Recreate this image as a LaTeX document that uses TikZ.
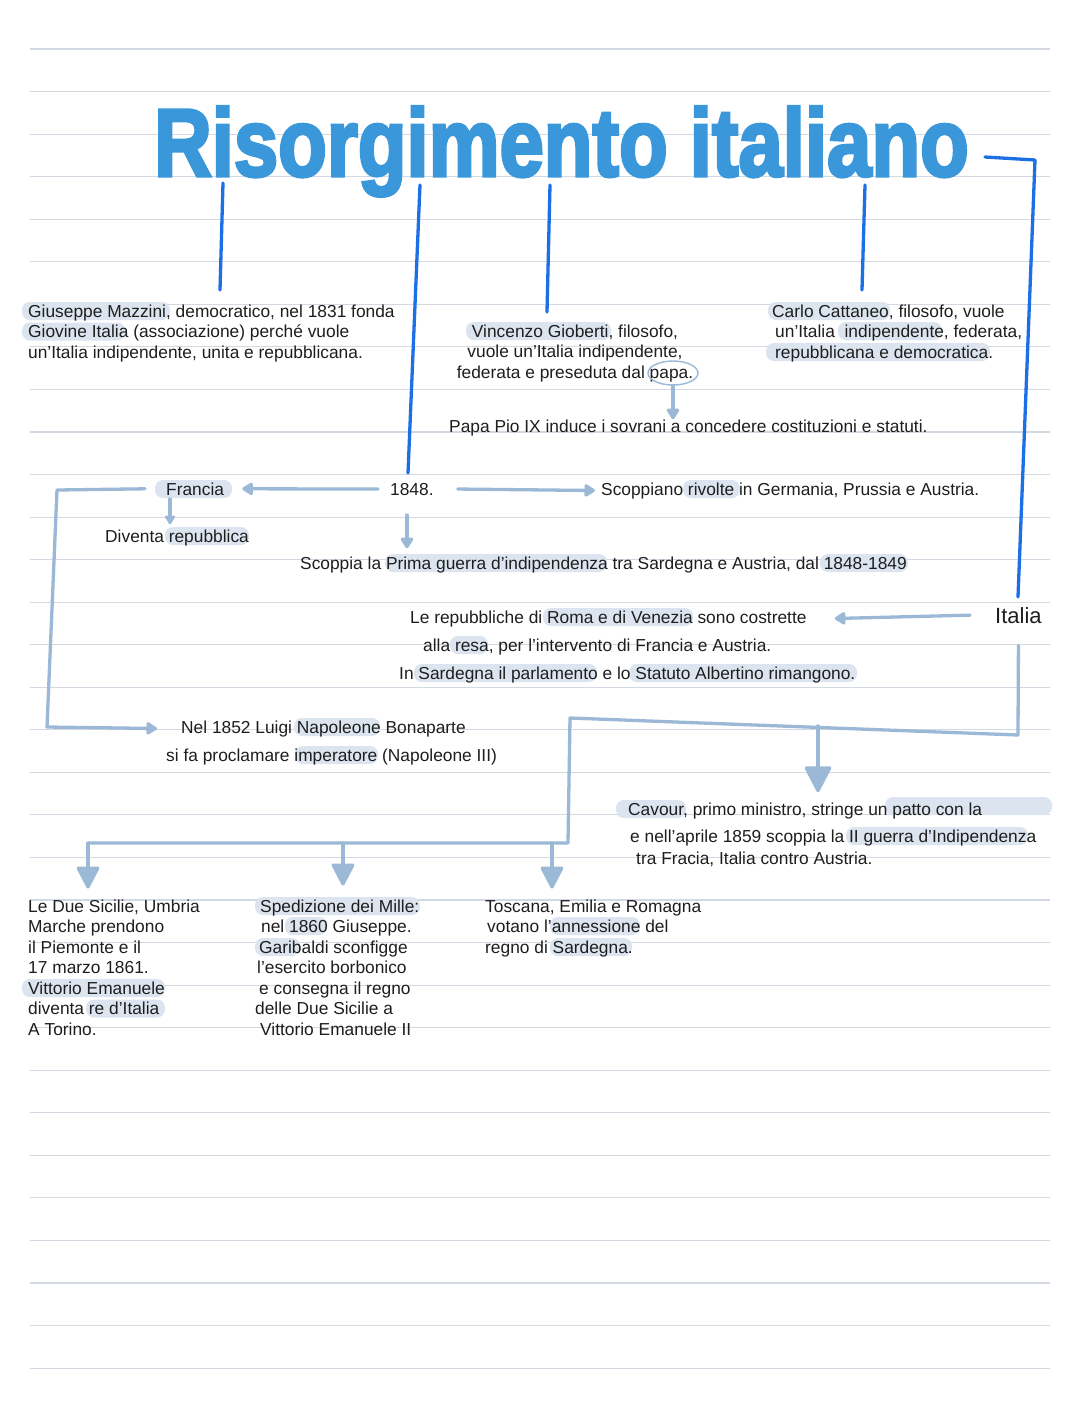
\documentclass[tikz,border=0pt]{standalone}
\usepackage{fontspec}
\setmainfont{Liberation Sans}
\newfontfamily\titlefont{Liberation Sans}[BoldFeatures={FakeBold=3.5}]
\usetikzlibrary{arrows.meta,shapes.geometric,calc}
\definecolor{rulec}{HTML}{D3D9E3}
\definecolor{titleblue}{HTML}{3A98DA}
\definecolor{linkblue}{HTML}{1C6FE4}
\definecolor{arrowblue}{HTML}{9BB9D7}
\definecolor{hlblue}{HTML}{DCE5EF}
\definecolor{ink}{HTML}{1E1E1E}
\newcommand{\titletext}{\scalebox{0.83}[1]{Risorgimento italiano}}
\begin{document}
\begin{tikzpicture}[x=1pt,y=-1pt,
 txt/.style={inner sep=0pt,anchor=base west,text=ink,font=\fontsize{17.35}{20.5}\selectfont},
 blk/.style={inner sep=0pt,anchor=north west,align=left,text=ink,font=\fontsize{17.35}{20.5}\selectfont},
 rulel/.style={draw=rulec,line width=1.1pt},
 link/.style={draw=linkblue,line width=3.3pt,line cap=round,line join=round},
 conn/.style={draw=arrowblue,line width=3.3pt,line cap=round,line join=round},
 arr/.style={conn,-{Triangle[width=14pt,length=12pt,round]}},
 smallarr/.style={conn,-{Triangle[width=11pt,length=10pt,round]}},
 bigarr/.style={conn,-{Triangle[width=28pt,length=28pt,round]}},
 midarr/.style={conn,-{Triangle[width=24pt,length=24pt,round]}},
 hl/.style={fill=hlblue,rounded corners=8pt}]
\useasboundingbox (0,0) rectangle (1080,1417);
\fill[white] (0,0) rectangle (1080,1417);
% ruled paper
\foreach \i in {0,...,31} \draw[rulel] (30,{49+42.55*\i}) -- (1050,{49+42.55*\i});
% highlights
\foreach \a/\b/\c in {22/170/317, 22/125/337.5, 466/611/337, 768/890/317, 838/942/337, 766/990/358,
  155/232/495, 683/740/495, 165/249/542, 385/607/569, 820/908/569, 543/693/623, 450/488/651,
  414/597/679, 629/857/679, 294/380/733, 295/378/761, 616/686/815, 885/1052/812, 846/1028/842,
  255/420/912, 285/327/932, 255/300/953, 22/165/994, 86/165/1014.5, 550/640/932, 550/632/953}
  \fill[hl] (\a,{\c-15}) rectangle (\b,{\c+3});
% title
\node[anchor=base west,inner sep=0pt,text=titleblue] (title) at (154,176)
  {\titlefont\bfseries\fontsize{96}{96}\selectfont\titletext};
% text blocks
\node[blk] (mazzini) at (28,304.5) {Giuseppe Mazzini, democratico, nel 1831 fonda\\Giovine Italia (associazione) perché vuole\\un’Italia indipendente, unita e repubblicana.};
\node[blk,anchor=north,align=center] (gioberti) at (575,324.5) {Vincenzo Gioberti, filosofo,\\vuole un’Italia indipendente,\\federata e preseduta dal papa.};
\node[draw=arrowblue,line width=1.4pt,ellipse,minimum width=50pt,minimum height=24pt,inner sep=0pt] (papa) at (673,373) {};
\node[blk] (cattaneo) at (772,304.5) {Carlo Cattaneo, filosofo, vuole\\\hspace*{3pt}un’Italia\ \ indipendente, federata,\\\hspace*{3pt}repubblicana e democratica.};
\node[txt] (pio) at (449,432) {Papa Pio IX induce i sovrani a concedere costituzioni e statuti.};
\node[txt] (francia) at (166,495) {Francia};
\node[txt] (y1848) at (390,495) {1848.};
\node[txt] (rivolte) at (601,495) {Scoppiano rivolte in Germania, Prussia e Austria.};
\node[txt] (repubblica) at (105,542) {Diventa repubblica};
\node[txt] (primaguerra) at (300,569) {Scoppia la Prima guerra d’indipendenza tra Sardegna e Austria, dal 1848-1849};
\node[txt,font=\fontsize{22}{24}\selectfont] (italia) at (995,623) {Italia};
\node[txt] (rep1) at (410,623) {Le repubbliche di Roma e di Venezia sono costrette};
\node[txt] (rep2) at (423,651) {alla resa, per l’intervento di Francia e Austria.};
\node[txt] (rep3) at (399,679) {In Sardegna il parlamento e lo Statuto Albertino rimangono.};
\node[txt] (nap1) at (181,733) {Nel 1852 Luigi Napoleone Bonaparte};
\node[txt] (nap2) at (166,761) {si fa proclamare imperatore (Napoleone III)};
\node[txt] (cav1) at (628,815) {Cavour, primo ministro, stringe un patto con la};
\node[txt] (cav2) at (630,842) {e nell’aprile 1859 scoppia la II guerra d’Indipendenza};
\node[txt] (cav3) at (636,864) {tra Fracia, Italia contro Austria.};
\node[blk] (sicilie) at (28,899.5) {Le Due Sicilie, Umbria\\Marche prendono\\il Piemonte e il\\17 marzo 1861.\\Vittorio Emanuele\\diventa re d’Italia\\A Torino.};
\node[blk] (mille) at (255,899.5) {\hspace*{5pt}Spedizione dei Mille:\\\hspace*{6pt}nel 1860 Giuseppe.\\\hspace*{4pt}Garibaldi sconfigge\\\hspace*{2pt}l’esercito borbonico\\\hspace*{4pt}e consegna il regno\\delle Due Sicilie a\\\hspace*{5pt}Vittorio Emanuele II};
\node[blk] (toscana) at (485,899.5) {Toscana, Emilia e Romagna\\\hspace*{2pt}votano l’annessione del\\regno di Sardegna.};
% dark blue links from the title
\coordinate (l1a) at (223,183); \coordinate (l1b) at (220,290);
\coordinate (l2a) at (420,185); \coordinate (l2b) at (408,473);
\coordinate (l3a) at (550,185); \coordinate (l3b) at (547,312);
\coordinate (l4a) at (865,185); \coordinate (l4b) at (862,290);
\coordinate (l5a) at (985,157); \coordinate (l5c) at (1035,160); \coordinate (l5b) at (1018,597);
\draw[link] (l1a) -- (l1b);
\draw[link] (l2a) -- (l2b);
\draw[link] (l3a) -- (l3b);
\draw[link] (l4a) -- (l4b);
\draw[link] (l5a) -- (l5c) -- (l5b);
% light arrows
\draw[arr] (papa.south) -- (papa.south |- pio.north);
\draw[arr] ([xshift=-12pt]y1848.west) -- ([xshift=18pt]francia.east);
\draw[arr] ([xshift=24pt]y1848.east) -- ([xshift=-6pt]rivolte.west);
\coordinate (frdown) at (170,499);
\draw[smallarr,shorten >=5pt] (frdown) -- (frdown |- repubblica.north);
\coordinate (yd) at (407,515);
\draw[arr,shorten >=8pt] (yd) -- (yd |- primaguerra.north);
\draw[arr] ([xshift=-25pt]italia.west) -- ([xshift=28pt]rep1.east);
\coordinate (fl1) at (57,490); \coordinate (fl2) at (47,727);
\draw[arr] ([xshift=-21pt]francia.west) -- (fl1) -- (fl2) -- ([xshift=-24pt]nap1.west);
\coordinate (it1) at (1018,735); \coordinate (sp) at (570,718); \coordinate (sp2) at (568,843);
\coordinate (br1) at (88,843); \coordinate (br2) at (343,843); \coordinate (br3) at (552,843);
\draw[conn] ([yshift=-22pt]italia.south) -- (it1) -- (sp) -- (sp2) -- (br1);
\coordinate (cavtop) at (818,726);
\draw[bigarr,shorten >=10pt] (cavtop) -- (cavtop |- cav1.north);
\draw[midarr,shorten >=11pt] (br1) -- (br1 |- sicilie.north);
\draw[midarr,shorten >=14pt] (br2) -- (br2 |- mille.north);
\draw[midarr,shorten >=11pt] (br3) -- (br3 |- toscana.north);
\end{tikzpicture}
\end{document}
